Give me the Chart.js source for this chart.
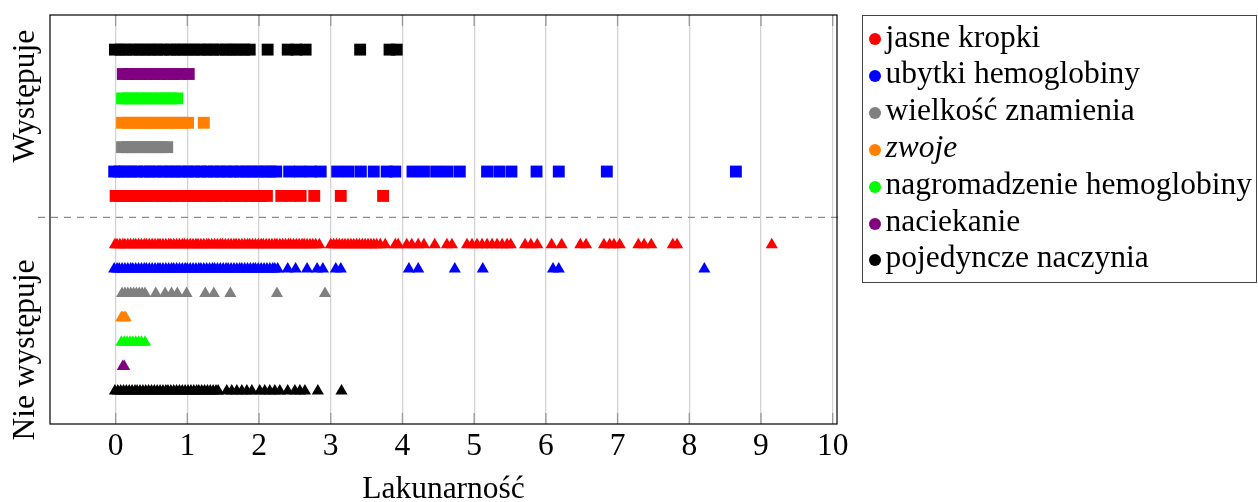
<!DOCTYPE html>
<html>
<head>
<meta charset="utf-8">
<script src="https://cdn.jsdelivr.net/npm/chart.js@4/dist/chart.umd.min.js"></script>
<style>
  html, body { margin: 0; padding: 0; background: #fff; }
  #wrap { position: relative; width: 1258px; height: 502px; overflow: hidden; }
  #chart { position: absolute; left: 0; top: 0; }
  #legend {
    position: absolute; left: 862px; top: 15px; width: 395px; height: 268px;
    border: 1.5px solid #444; box-sizing: border-box;
    font-family: "Liberation Serif", serif; font-size: 31.5px; color: #000;
  }
  .item { position: absolute; left: 0; height: 36.8px; line-height: 36.8px; white-space: nowrap; }
  .dot { position: absolute; left: 5.5px; top: 12.4px; width: 12px; height: 12px; border-radius: 50%; }
  .label { position: relative; left: 22.5px; top: -2.6px; }
</style>
</head>
<body>
<div id="wrap">
  <canvas id="chart" width="1258" height="502"></canvas>
  <div id="legend"></div>
</div>
<script>
// categories
const features = ['jasne kropki', 'ubytki hemoglobiny', 'wielkość znamienia', 'zwoje',
  'nagromadzenie hemoglobiny', 'naciekanie', 'pojedyncze naczynia'];
const groups = ['Występuje', 'Nie występuje'];
const rowsWys = [9, 10, 11, 12, 13, 14, 15];
const rowsNie = [7, 6, 5, 4, 3, 2, 1];
const xTicks = [0, 1, 2, 3, 4, 5, 6, 7, 8, 9, 10];

// Występuje (squares)
const kropkiWys = [0.0, 0.06, 0.13, 0.21, 0.3, 0.38, 0.45, 0.55, 0.63, 0.72, 0.8, 0.9, 0.98, 1.07, 1.15,
  1.24, 1.33, 1.41, 1.5, 1.6, 1.68, 1.77, 1.86, 1.95, 2.03, 2.11, 2.31, 2.44, 2.58, 2.77, 3.14, 3.73];
const ubytkiWys = [-0.02, 0.05, 0.13, 0.22, 0.3, 0.4, 0.48, 0.57, 0.66, 0.75, 0.83, 0.92, 1.01, 1.1, 1.19,
  1.28, 1.37, 1.46, 1.55, 1.64, 1.73, 1.82, 1.9, 1.99, 2.08, 2.16, 2.24, 2.42, 2.57, 2.72, 2.86,
  3.09, 3.25, 3.42, 3.6, 3.78, 3.9, 4.14, 4.3, 4.47, 4.63, 4.8, 5.18, 5.35, 5.52, 5.87, 6.18, 6.85, 8.65];
const znamieWys = [0.09, 0.16, 0.24, 0.31, 0.4, 0.48, 0.56, 0.64, 0.72];
const zwojeWys = [0.09, 0.17, 0.26, 0.34, 0.42, 0.5, 0.59, 0.67, 0.75, 0.84, 0.93, 1.01, 1.23];
const nagromWys = [0.09, 0.17, 0.25, 0.34, 0.43, 0.51, 0.6, 0.69, 0.77, 0.86];
const naciekWys = [0.1, 0.18, 0.27, 0.36, 0.45, 0.54, 0.63, 0.72, 0.81, 0.9, 1.02];
const naczyniaWys = [-0.01, 0.07, 0.15, 0.24, 0.33, 0.41, 0.5, 0.58, 0.67, 0.76, 0.85, 0.93, 1.02, 1.1,
  1.19, 1.28, 1.36, 1.45, 1.54, 1.62, 1.7, 1.79, 1.87, 2.12, 2.4, 2.52, 2.65, 3.41, 3.82, 3.92];

// Nie występuje (triangles)
const kropkiNie = [-0.01, 0.02, 0.06, 0.1, 0.13, 0.17, 0.21, 0.25, 0.28, 0.32, 0.36, 0.4, 0.43, 0.47,
  0.51, 0.55, 0.59, 0.62, 0.66, 0.7, 0.74, 0.77, 0.81, 0.85, 0.89, 0.93, 0.96, 1.0, 1.04, 1.08, 1.12,
  1.15, 1.19, 1.23, 1.27, 1.3, 1.34, 1.38, 1.42, 1.46, 1.49, 1.53, 1.57, 1.61, 1.65, 1.68, 1.72, 1.76,
  1.8, 1.84, 1.87, 1.91, 1.95, 1.99, 2.03, 2.06, 2.1, 2.14, 2.18, 2.22, 2.25, 2.29, 2.33, 2.37, 2.41,
  2.44, 2.48, 2.52, 2.56, 2.6, 2.63, 2.67, 2.71, 2.75, 2.79, 2.84, 3.0, 3.04, 3.08, 3.12, 3.16, 3.2,
  3.24, 3.28, 3.32, 3.36, 3.4, 3.44, 3.48, 3.52, 3.56, 3.6, 3.64, 3.69, 3.76, 3.9, 3.94, 4.06, 4.13,
  4.22, 4.3, 4.45, 4.62, 4.69, 4.9, 4.97, 5.04, 5.11, 5.18, 5.25, 5.32, 5.39, 5.46, 5.51, 5.71, 5.79,
  5.88, 6.08, 6.22, 6.48, 6.56, 6.81, 6.89, 6.95, 7.03, 7.29, 7.37, 7.47, 7.77, 7.83, 9.15];
const ubytkiNie = [-0.02, 0.02, 0.05, 0.09, 0.13, 0.17, 0.21, 0.24, 0.28, 0.32, 0.36, 0.4, 0.43, 0.47,
  0.51, 0.55, 0.59, 0.62, 0.66, 0.7, 0.74, 0.78, 0.81, 0.85, 0.89, 0.93, 0.97, 1.0, 1.04, 1.08, 1.12,
  1.16, 1.19, 1.23, 1.27, 1.31, 1.35, 1.38, 1.42, 1.46, 1.5, 1.54, 1.57, 1.61, 1.65, 1.69, 1.73, 1.76,
  1.8, 1.84, 1.88, 1.92, 1.95, 1.99, 2.03, 2.07, 2.11, 2.15, 2.19, 2.22, 2.26, 2.4, 2.51, 2.67, 2.81,
  2.89, 3.07, 3.14, 4.09, 4.22, 4.73, 5.12, 6.1, 6.18, 8.21];
const znamieNie = [0.09, 0.13, 0.17, 0.21, 0.25, 0.29, 0.33, 0.37, 0.41, 0.56, 0.69, 0.78, 0.86, 0.99,
  1.25, 1.37, 1.6, 2.25, 2.92];
const zwojeNie = [0.08, 0.1, 0.12, 0.14];
const nagromNie = [0.08, 0.12, 0.16, 0.2, 0.24, 0.28, 0.32, 0.36, 0.41];
const naciekNie = [0.1, 0.12];
const naczyniaNie = [-0.01, 0.03, 0.07, 0.11, 0.15, 0.19, 0.23, 0.27, 0.3, 0.34, 0.38, 0.42, 0.46,
  0.5, 0.54, 0.58, 0.62, 0.66, 0.7, 0.73, 0.77, 0.81, 0.85, 0.89, 0.93, 0.97, 1.01, 1.05, 1.09, 1.13,
  1.16, 1.2, 1.24, 1.28, 1.32, 1.36, 1.4, 1.43, 1.55, 1.62, 1.69, 1.76, 1.83, 1.9, 2.01, 2.08, 2.15,
  2.22, 2.29, 2.4, 2.5, 2.57, 2.64, 2.82, 3.15];

const wysSeries = [kropkiWys, ubytkiWys, znamieWys, zwojeWys, nagromWys, naciekWys, naczyniaWys];
const nieSeries = [kropkiNie, ubytkiNie, znamieNie, zwojeNie, nagromNie, naciekNie, naczyniaNie];
const colors = ['#ff0000', '#0000ff', '#808080', '#ff8000', '#00ff00', '#800080', '#000000'];

const FONT = '"Liberation Serif", serif';

const datasets = [];
features.forEach((name, k) => {
  datasets.push({
    label: name + ' (' + groups[0] + ')',
    data: wysSeries[k].map((x) => ({ x: x, y: rowsWys[k] })),
    pointStyle: 'rect',
    pointRadius: 8.4,
    pointBorderWidth: 0,
    backgroundColor: colors[k],
    borderColor: colors[k],
  });
  datasets.push({
    label: name + ' (' + groups[1] + ')',
    data: nieSeries[k].map((x) => ({ x: x, y: rowsNie[k] })),
    pointStyle: 'triangle',
    pointRadius: 7,
    pointBorderWidth: 0,
    backgroundColor: colors[k],
    borderColor: colors[k],
  });
});

// frame, separator, inner ticks and group labels
const decor = {
  id: 'decor',
  beforeDatasetsDraw(chart) {
    const { ctx, chartArea: a, scales: { x, y } } = chart;
    ctx.save();
    ctx.strokeStyle = '#999';
    ctx.lineWidth = 1.3;
    xTicks.forEach((t) => {
      const px = x.getPixelForValue(t);
      ctx.beginPath();
      ctx.moveTo(px, a.bottom); ctx.lineTo(px, a.bottom - 11);
      ctx.moveTo(px, a.top); ctx.lineTo(px, a.top + 11);
      ctx.stroke();
    });
    const sy = y.getPixelForValue(8.12);
    ctx.strokeStyle = '#8c8c8c';
    ctx.lineWidth = 1.4;
    ctx.setLineDash([7, 6]);
    ctx.beginPath();
    ctx.moveTo(38, sy); ctx.lineTo(843, sy);
    ctx.stroke();
    ctx.restore();
  },
  afterDraw(chart) {
    const { ctx, chartArea: a, scales: { y } } = chart;
    ctx.save();
    ctx.strokeStyle = '#000';
    ctx.lineWidth = 1.2;
    ctx.strokeRect(a.left, a.top, a.right - a.left, a.bottom - a.top);
    ctx.fillStyle = '#000';
    ctx.font = '31.5px ' + FONT;
    ctx.textAlign = 'center';
    ctx.textBaseline = 'alphabetic';
    [[groups[0], 13.09], [groups[1], 2.68]].forEach(([txt, v]) => {
      ctx.save();
      ctx.translate(34, y.getPixelForValue(v));
      ctx.rotate(-Math.PI / 2);
      ctx.fillText(txt, 0, 0);
      ctx.restore();
    });
    ctx.restore();
  },
};

new Chart(document.getElementById('chart'), {
  type: 'scatter',
  data: { datasets: datasets },
  options: {
    responsive: false,
    animation: false,
    layout: { padding: { left: 50, top: 15, right: 421, bottom: 0 } },
    plugins: { legend: { display: false }, tooltip: { enabled: false } },
    scales: {
      x: {
        type: 'linear',
        min: -0.915,
        max: 10.06,
        afterBuildTicks: (s) => { s.ticks = xTicks.map((v) => ({ value: v })); },
        afterFit: (s) => { s.height = 78; },
        grid: { color: '#d3d3d3', lineWidth: 1.3, drawTicks: false },
        border: { display: false },
        ticks: { color: '#000', padding: 4, font: { family: FONT, size: 31.5 } },
        title: {
          display: true,
          text: 'Lakunarność',
          color: '#000',
          padding: 0,
          font: { family: FONT, size: 31.5, lineHeight: 0.8 },
        },
      },
      y: {
        type: 'linear',
        display: false,
        min: -0.353,
        max: 16.42,
      },
    },
  },
  plugins: [decor],
});

// legend
const legend = document.getElementById('legend');
features.forEach((name, k) => {
  const item = document.createElement('div');
  item.className = 'item';
  item.style.top = (5.1 + k * 36.83) + 'px';
  const dot = document.createElement('span');
  dot.className = 'dot';
  dot.style.background = colors[k];
  const label = document.createElement('span');
  label.className = 'label';
  label.textContent = name;
  if (name === 'zwoje') label.style.fontStyle = 'italic';
  item.appendChild(dot);
  item.appendChild(label);
  legend.appendChild(item);
});
</script>
</body>
</html>
